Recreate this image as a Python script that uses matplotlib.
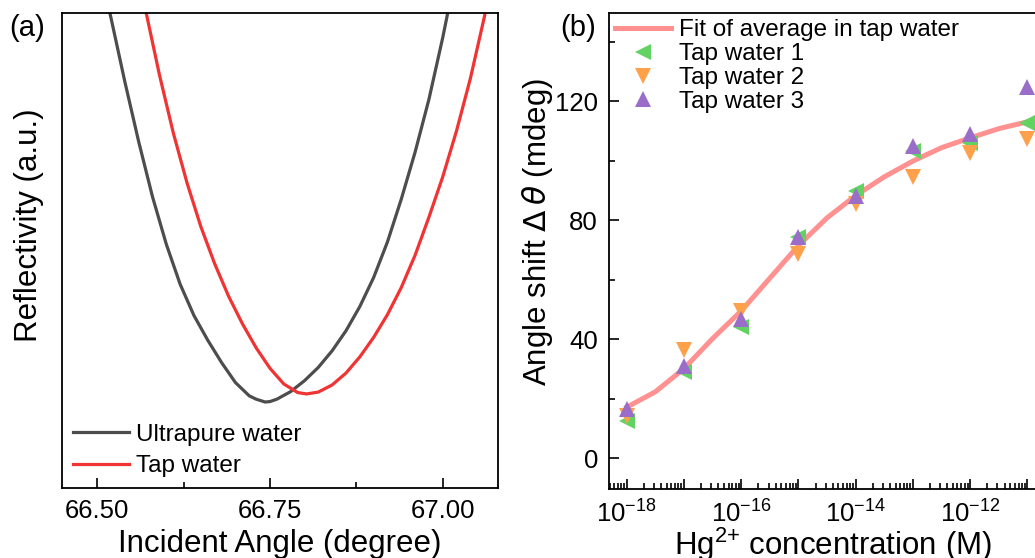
import matplotlib
matplotlib.use("Agg")
import matplotlib.pyplot as plt
from matplotlib.ticker import FixedLocator, FixedFormatter, LogLocator, NullFormatter, MultipleLocator

plt.rcParams['font.family'] = ['Liberation Sans', 'DejaVu Sans']
plt.rcParams['mathtext.default'] = 'regular'

# panel (a): SPR reflectivity curves (arbitrary units)
angle_pure = [66.515, 66.52, 66.54, 66.56, 66.58, 66.60, 66.62, 66.64, 66.66, 66.68, 66.70,
              66.72, 66.73, 66.743, 66.75, 66.76, 66.78, 66.80, 66.82, 66.84, 66.86, 66.88,
              66.90, 66.92, 66.94, 66.96, 66.98, 67.00, 67.01]
refl_pure = [1.02, 0.989, 0.855, 0.729, 0.613, 0.513, 0.429, 0.363, 0.311, 0.264, 0.222,
             0.194, 0.187, 0.181, 0.182, 0.187, 0.203, 0.226, 0.254, 0.289, 0.331, 0.382,
             0.443, 0.518, 0.608, 0.707, 0.818, 0.948, 1.02]
angle_tap = [66.565, 66.57, 66.59, 66.61, 66.63, 66.65, 66.67, 66.69, 66.71, 66.73, 66.75,
             66.77, 66.79, 66.803, 66.82, 66.84, 66.86, 66.88, 66.90, 66.92, 66.94,
             66.96, 66.98, 67.00, 67.02, 67.04, 67.06, 67.07]
refl_tap = [1.04, 1.006, 0.870, 0.748, 0.642, 0.550, 0.472, 0.404, 0.346, 0.295, 0.252,
            0.219, 0.201, 0.198, 0.202, 0.217, 0.242, 0.276, 0.317, 0.365, 0.422,
            0.490, 0.570, 0.655, 0.752, 0.862, 0.990, 1.06]

# panel (b): angle shift vs Hg2+ concentration
conc = [1e-18, 1e-17, 1e-16, 1e-15, 1e-14, 1e-13, 1e-12, 1e-11]
tap1 = [12.5, 29.1, 44.0, 74.5, 89.8, 103.2, 106.1, 112.8]
tap2 = [14.0, 36.4, 49.6, 68.7, 85.3, 94.6, 102.7, 107.2]
tap3 = [16.4, 31.0, 46.7, 74.2, 88.3, 105.1, 109.1, 124.9]
fit_conc = [10 ** e for e in [-18, -17.5, -17, -16.5, -16, -15.5, -15, -14.5, -14,
                              -13.5, -13, -12.5, -12, -11.5, -11]]
fit_shift = [17.1, 22.3, 30.1, 40.2, 49.5, 60.5, 71.5, 80.8, 88.3,
             94.6, 99.9, 104.4, 107.7, 110.8, 113.1]

fig = plt.figure(figsize=(10.35, 5.58), dpi=100)
W, H = 1035.0, 558.0

# ---- panel (a)
ax1 = fig.add_axes([62 / W, 70 / H, 436 / W, 475 / H])
ax1.plot(angle_pure, refl_pure, color='#4d4d4d', lw=2.3, label='Ultrapure water')
ax1.plot(angle_tap, refl_tap, color='#f03333', lw=2.3, label='Tap water')
ax1.set_xlim(66.449, 67.08)
ax1.set_ylim(0, 1)
ax1.xaxis.set_major_locator(FixedLocator([66.50, 66.75, 67.00]))
ax1.xaxis.set_major_formatter(FixedFormatter(['66.50', '66.75', '67.00']))
ax1.xaxis.set_minor_locator(MultipleLocator(0.125))
ax1.set_yticks([])
ax1.tick_params(axis='x', which='major', direction='in', length=7, width=1.2,
                labelsize=18.5, pad=8)
ax1.tick_params(axis='x', which='minor', direction='in', length=4, width=1.2)
ax1.set_xlabel('Incident Angle (degree)', fontsize=22.5, labelpad=4.5)
ax1.set_ylabel('Reflectivity (a.u.)', fontsize=22.5)
ax1.yaxis.set_label_coords(-0.042, 0.554)
for s in ax1.spines.values():
    s.set_linewidth(1.3)
ax1.legend(loc='lower left', frameon=False, fontsize=17.5, handlelength=2.3,
           handletextpad=0.3, labelspacing=0.38, borderaxespad=0.15, borderpad=0.3)
fig.text(27 / W, 1 - 28 / H, '(a)', fontsize=21, ha='center', va='center')

# ---- panel (b), right part runs off the canvas like the original
ax2 = fig.add_axes([609 / W, 69 / H, 447 / W, 476 / H])
ax2.set_xscale('log')
ax2.plot(fit_conc, fit_shift, color='#ff8585', lw=3.6, alpha=0.9,
         label='Fit of average in tap water', zorder=2)
ax2.plot(conc, tap1, ls='none', marker='<', ms=12, color='#62d262', mew=0,
         label='Tap water 1', zorder=3)
ax2.plot(conc, tap2, ls='none', marker='v', ms=12, color='#ffa04a', mew=0,
         label='Tap water 2', zorder=3)
ax2.plot(conc, tap3, ls='none', marker='^', ms=12, color='#9a6ec8', mew=0,
         label='Tap water 3', zorder=4)
ax2.set_xlim(10 ** -18.31, 10 ** -10.5)
ax2.set_ylim(-10.4, 149.7)
major = [10.0 ** e for e in range(-18, -10)]
ax2.xaxis.set_major_locator(FixedLocator(major))
ax2.xaxis.set_major_formatter(FixedFormatter(
    ['$10^{-18}$', '', '$10^{-16}$', '', '$10^{-14}$', '', '$10^{-12}$', '']))
ax2.xaxis.set_minor_locator(LogLocator(base=10, subs=range(2, 10), numticks=20))
ax2.xaxis.set_minor_formatter(NullFormatter())
ax2.yaxis.set_major_locator(FixedLocator([0, 40, 80, 120]))
ax2.yaxis.set_minor_locator(MultipleLocator(20))
ax2.tick_params(which='major', direction='in', length=7, width=1.2, labelsize=18.5)
ax2.tick_params(which='minor', direction='in', length=4, width=1.2)
ax2.tick_params(axis='x', pad=8)
ax2.tick_params(axis='y', pad=8)
ax2.set_xlabel('Hg$^{2{+}}$ concentration (M)', fontsize=22.5, labelpad=-1)
ax2.set_ylabel(r'Angle shift $\mathit{\Delta\,\theta}$ (mdeg)', fontsize=22.5)
ax2.yaxis.set_label_coords(-0.121, 0.54)
for s in ax2.spines.values():
    s.set_linewidth(1.3)
ax2.legend(loc='upper left', frameon=False, fontsize=17.5, handlelength=2.3,
           handletextpad=0.35, labelspacing=0.08, borderaxespad=0.0, borderpad=0.25)
fig.text(578 / W, 1 - 28 / H, '(b)', fontsize=21, ha='center', va='center')

fig.savefig('out.png', dpi=100)
